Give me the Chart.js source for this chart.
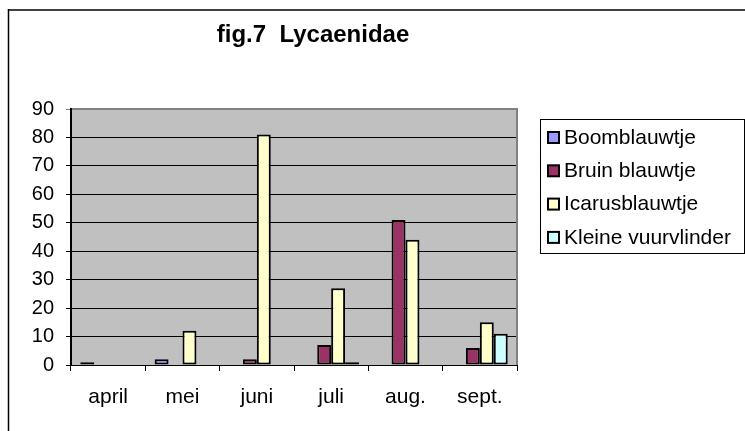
<!DOCTYPE html>
<html>
<head>
<meta charset="utf-8">
<script src="https://cdn.jsdelivr.net/npm/chart.js@4/dist/chart.umd.min.js"></script>
<style>
  html, body { margin: 0; padding: 0; background: #fff; }
  #wrap { position: relative; width: 745px; height: 431px; }
</style>
</head>
<body>
<div id="wrap"><canvas id="c" width="745" height="431"></canvas></div>
<script>
// ---- data ----
const titleText = 'fig.7  Lycaenidae';
const categories = ['april', 'mei', 'juni', 'juli', 'aug.', 'sept.'];
const seriesNames = ['Boomblauwtje', 'Bruin blauwtje', 'Icarusblauwtje', 'Kleine vuurvlinder'];
const boomblauwtje      = [1, 2, 0, 0, 0, 0];
const bruinBlauwtje     = [0, 0, 2, 7, 51, 6];
const icarusblauwtje    = [0, 12, 81, 27, 44, 15];
const kleineVuurvlinder = [0, 0, 0, 1, 0, 11];
const yMin = 0, yMax = 90, yStep = 10;

// ---- styles ----
const seriesColors = ['#9999FF', '#993366', '#FFFFCC', '#CCFFFF'];
const FONT = 'Liberation Sans, Arial, sans-serif';

const seriesValues = [boomblauwtje, bruinBlauwtje, icarusblauwtje, kleineVuurvlinder];
const datasets = seriesNames.map((name, i) => ({
  label: name,
  data: seriesValues[i],
  backgroundColor: seriesColors[i],
  borderColor: '#000000',
  borderWidth: 2,
  borderSkipped: false,
  categoryPercentage: 0.75,
  barPercentage: 1.0
}));

const decorPlugin = {
  id: 'decor',
  beforeDraw(chart) {
    const { ctx, chartArea: a } = chart;
    ctx.save();
    ctx.fillStyle = '#C0C0C0';
    ctx.fillRect(a.left, a.top, a.right - a.left, a.bottom - a.top);
    ctx.restore();
  },
  afterDraw(chart) {
    const { ctx, chartArea: a } = chart;
    ctx.save();
    // plot area top/right border (gray)
    ctx.strokeStyle = '#808080';
    ctx.lineWidth = 2;
    ctx.beginPath();
    ctx.moveTo(a.left, a.top);
    ctx.lineTo(a.right, a.top);
    ctx.lineTo(a.right, a.bottom);
    ctx.stroke();
    // left axis line black
    ctx.strokeStyle = '#000';
    ctx.lineWidth = 2;
    ctx.beginPath();
    ctx.moveTo(a.left, a.top - 1);
    ctx.lineTo(a.left, a.bottom);
    ctx.stroke();

    // outer frame
    ctx.strokeStyle = '#404040';
    ctx.lineWidth = 2;
    ctx.beginPath();
    ctx.moveTo(8, 10);
    ctx.lineTo(760, 10);
    ctx.stroke();
    ctx.strokeStyle = '#000';
    ctx.lineWidth = 1.5;
    ctx.beginPath();
    ctx.moveTo(8.5, 9);
    ctx.lineTo(8.5, 440);
    ctx.stroke();

    // title
    ctx.fillStyle = '#000';
    ctx.font = 'bold 24px ' + FONT;
    ctx.textAlign = 'center';
    ctx.textBaseline = 'middle';
    ctx.fillText(titleText, 313, 35);

    // legend
    const lx = 540, ly = 119, lw = 204, lh = 134;
    ctx.fillStyle = '#fff';
    ctx.fillRect(lx, ly, lw, lh);
    ctx.strokeStyle = '#000';
    ctx.lineWidth = 1;
    ctx.strokeRect(lx + 0.5, ly + 0.5, lw, lh);
    ctx.font = '21px ' + FONT;
    ctx.textAlign = 'left';
    ctx.textBaseline = 'middle';
    chart.data.datasets.forEach((ds, i) => {
      const cy = 137 + i * 33.3;
      ctx.fillStyle = ds.backgroundColor;
      ctx.fillRect(548, cy - 5, 11, 11);
      ctx.strokeStyle = '#000';
      ctx.lineWidth = 2;
      ctx.strokeRect(548, cy - 5, 11, 11);
      ctx.fillStyle = '#000';
      ctx.fillText(ds.label, 564, cy + 1);
    });
    ctx.restore();
  }
};

new Chart(document.getElementById('c'), {
  type: 'bar',
  data: { labels: categories, datasets },
  options: {
    responsive: false,
    animation: false,
    devicePixelRatio: 1,
    layout: { padding: { top: 109, right: 228, bottom: 0, left: 0 } },
    plugins: {
      legend: { display: false },
      title: { display: false },
      tooltip: { enabled: false }
    },
    scales: {
      x: {
        grid: { offset: true, drawOnChartArea: false, drawTicks: true, tickLength: 6, color: '#000', lineWidth: 1 },
        border: { color: '#000', width: 1 },
        ticks: { color: '#000', font: { family: FONT, size: 21 }, padding: 14, maxRotation: 0 },
        afterFit(s) { s.height = 66; }
      },
      y: {
        min: yMin, max: yMax,
        grid: {
          color: (c) => (c.tick && c.tick.value === yMax) ? '#808080' : '#000',
          lineWidth: 1, tickLength: 5, drawTicks: true
        },
        border: { color: '#000', width: 2 },
        ticks: { stepSize: yStep, color: '#000', font: { family: FONT, size: 20 }, padding: 12 },
        afterFit(s) { s.width = 71; }
      }
    }
  },
  plugins: [decorPlugin]
});
</script>
</body>
</html>
